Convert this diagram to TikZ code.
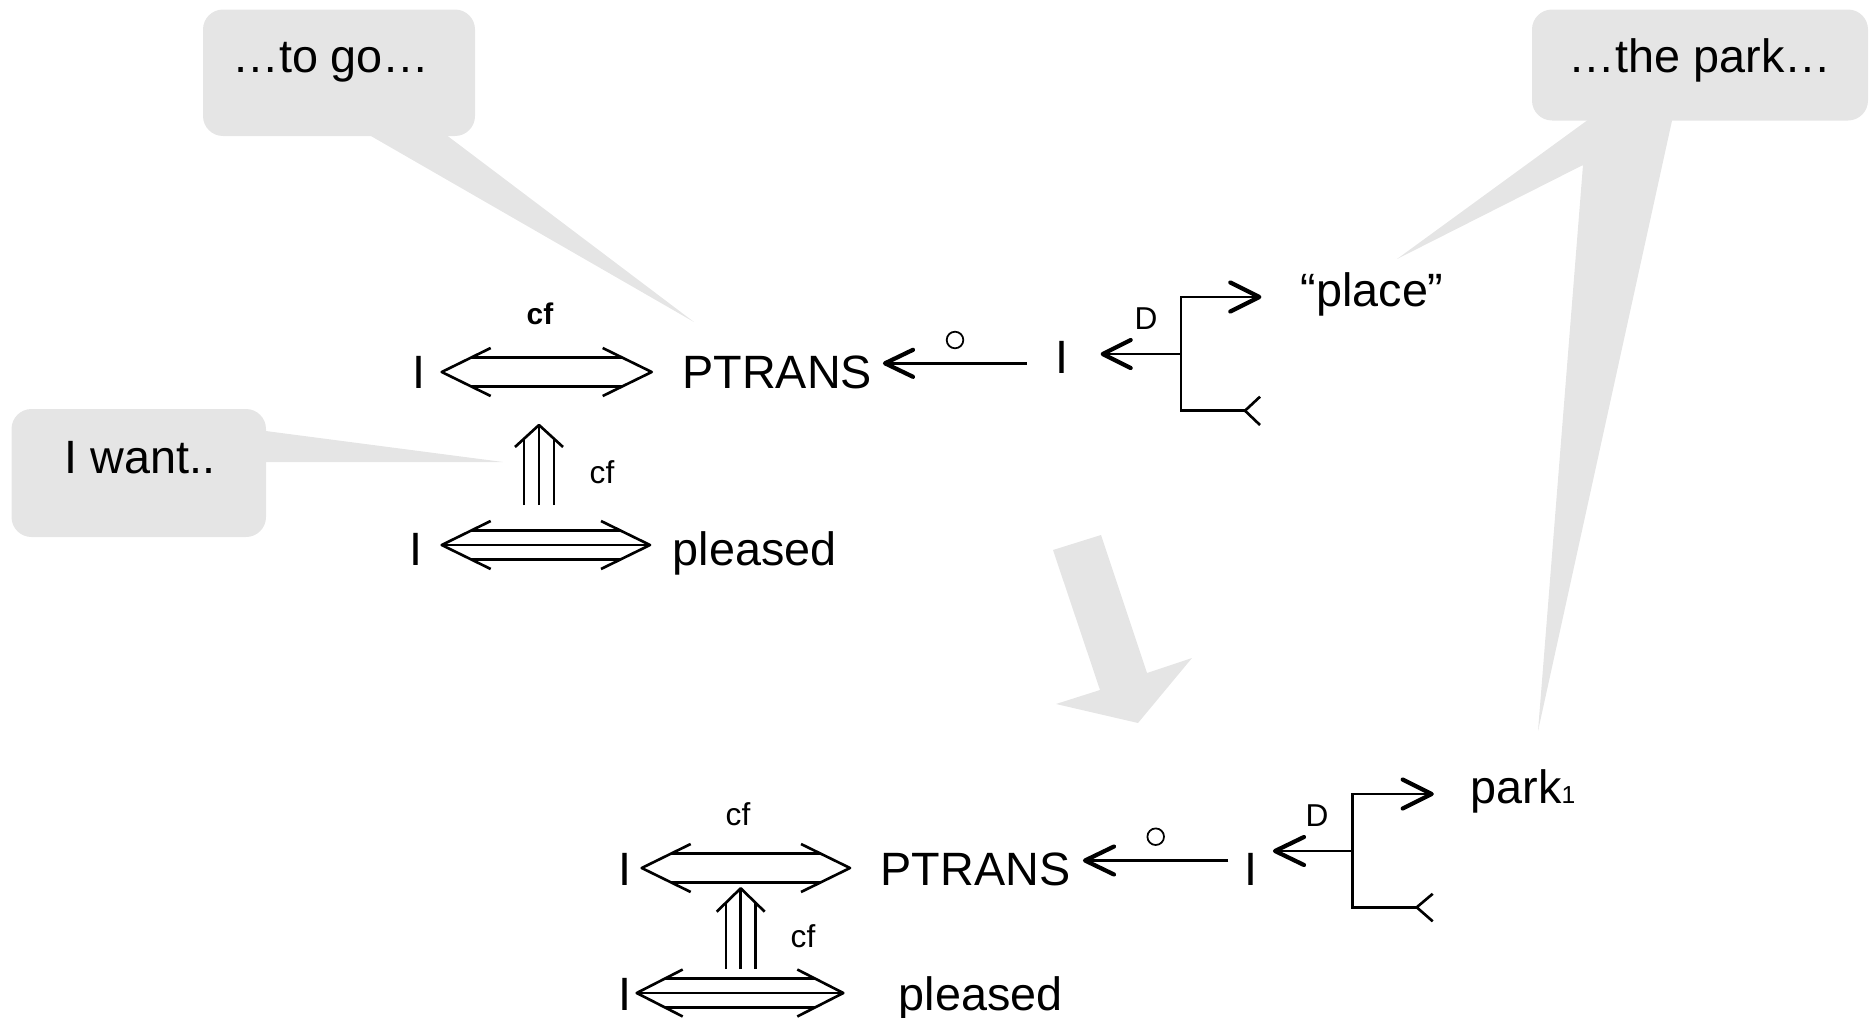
\documentclass[tikz,border=0pt]{standalone}
\usepackage{fontspec}
\setmainfont{Liberation Sans}
\usetikzlibrary{calc}
\definecolor{bubgray}{RGB}{229,229,229}
\begin{document}
\begin{tikzpicture}[x=0.1mm,y=-0.1mm,
  txt/.style={font=\fontsize{13.3}{16}\selectfont, inner sep=0pt},
  lbl/.style={font=\fontsize{9}{10}\selectfont, inner sep=0pt},
  bub/.style={fill=bubgray, draw=none, rounded corners=2mm},
  tail/.style={fill=bubgray, draw=none},
  ln/.style={line width=0.75pt, line join=round},
  hd/.style={line width=1.2pt, line cap=round, line join=round},
  ring/.style={circle, draw, line width=0.5pt, minimum size=1.66mm, inner sep=0pt},
]
\useasboundingbox (0,0) rectangle (1871,1018);

% ---------- speech bubbles ----------
\path[bub] (203,9.5) rectangle (475,136);
\path[tail] (357,128) -- (694,322) -- (437,128) -- cycle;
\node[txt, anchor=base] (togo) at (331,73) {…to go…};

\path[bub] (11.5,409) rectangle (266,537);
\path[tail] (255,429.6) -- (503,462) -- (255,462) -- cycle;
\node[txt, anchor=base] (iwant) at (140,473) {I want..};

\path[bub] (1532,9.5) rectangle (1868,120.5);
\path[tail] (1598.7,112) -- (1397,259) -- (1583,165) -- (1538,731) -- (1673.9,112) -- cycle;
\node[txt, anchor=base] (thepark) at (1700,73) {…the park…};

% big transition arrow
\path[tail] (1053,550) -- (1101,535) -- (1147,673) -- (1192,658) -- (1138,723) -- (1056,704) -- (1100,690) -- cycle;

% ---------- upper conceptualization ----------
\node[txt, anchor=base] (I1) at (418.5,388.3) {I};
\node[txt, anchor=base west] (PT1) at (681.7,388.3) {PTRANS};
\node[font=\bfseries\fontsize{8.5}{10}\selectfont, inner sep=0pt] (cf1) at (540,314) {cf};
\node[txt, anchor=base] (I2) at (416,565) {I};
\node[txt, anchor=base west] (pl1) at (672,565) {pleased};
\node[lbl] (cf2) at (602,472) {cf};
\node[ring] (o1) at (955,340) {};
\node[txt, anchor=base] (I3) at (1061.5,373) {I};
\node[lbl] (D1) at (1146,319) {D};
\node[txt, anchor=base west] (place) at (1300,306.7) {“place”};

% double arrow I <=> PTRANS
\coordinate (A1) at (441.7,372);
\coordinate (A2) at (651.7,372);
\draw[ln] ($(A1)+(49,-24)$) -- (A1) -- ($(A1)+(49,24)$);
\draw[ln] ($(A2)+(-49,-24)$) -- (A2) -- ($(A2)+(-49,24)$);
\draw[ln] ($(A1)+(29.6,-14.5)$) -- ($(A2)+(-29.6,-14.5)$);
\draw[ln] ($(A1)+(29.6,14.5)$) -- ($(A2)+(-29.6,14.5)$);

% triple vertical arrow
\coordinate (Bt) at (539,425);
\coordinate (Bb) at (539,505);
\draw[ln] ($(Bt)+(-24,22)$) -- (Bt) -- ($(Bt)+(24,22)$);
\draw[ln] (Bb) -- (Bt);
\draw[ln] ($(Bb)+(-15,0)$) -- ($(Bt)+(-15,13.75)$);
\draw[ln] ($(Bb)+(15,0)$) -- ($(Bt)+(15,13.75)$);

% triple horizontal arrow I <=> pleased
\coordinate (C1) at (441.7,545);
\coordinate (C2) at (650,545);
\draw[ln] ($(C1)+(49,-24)$) -- (C1) -- ($(C1)+(49,24)$);
\draw[ln] ($(C2)+(-49,-24)$) -- (C2) -- ($(C2)+(-49,24)$);
\draw[ln] (C1) -- (C2);
\draw[ln] ($(C1)+(29.6,-14.5)$) -- ($(C2)+(-29.6,-14.5)$);
\draw[ln] ($(C1)+(29.6,14.5)$) -- ($(C2)+(-29.6,14.5)$);

% objective arrow I -> PTRANS
\coordinate (E1t) at (1026.7,363.3);
\coordinate (E1h) at (885,363.3);
\draw[ln] (E1t) -- (E1h);
\draw[hd] ($(E1h)+(28,-13.5)$) -- (E1h) -- ($(E1h)+(28,13.5)$);

% directive bracket
\coordinate (F1v) at (1181,354);
\coordinate (F1h) at (1102.7,354);
\draw[ln] (F1v) -- (F1h);
\draw[hd] ($(F1h)+(28,-14)$) -- (F1h) -- ($(F1h)+(28,14)$);
\coordinate (G1a) at (1259.3,297);
\coordinate (G1b) at (1245,410.7);
\draw[ln, line join=miter] (G1a) -- (1181,297) -- (1181,410.7) -- (G1b);
\draw[hd] ($(G1a)+(-29,-14.5)$) -- (G1a) -- ($(G1a)+(-29,14.5)$);
\draw[ln] ($(G1b)+(15,-14)$) -- (G1b) -- ($(G1b)+(15,14.3)$);

% ---------- lower conceptualization ----------
\node[txt, anchor=base] (I4) at (625,885) {I};
\node[txt, anchor=base west] (PT2) at (880,885) {PTRANS};
\node[lbl] (cf3) at (738,814) {cf};
\node[txt, anchor=base] (I5) at (625,1010) {I};
\node[txt, anchor=base west] (pl2) at (898,1010) {pleased};
\node[lbl] (cf4) at (803,936) {cf};
\node[ring] (o2) at (1155.7,836.7) {};
\node[txt, anchor=base] (I6) at (1250.5,885) {I};
\node[lbl] (D2) at (1317,816) {D};
\node[txt, anchor=base west] (park) at (1470,803.3) {park{\fontsize{7}{8}\selectfont 1}};

% double arrow
\coordinate (H1) at (641.7,868);
\coordinate (H2) at (850,868);
\draw[ln] ($(H1)+(49,-24)$) -- (H1) -- ($(H1)+(49,24)$);
\draw[ln] ($(H2)+(-49,-24)$) -- (H2) -- ($(H2)+(-49,24)$);
\draw[ln] ($(H1)+(29.6,-14.3)$) -- ($(H2)+(-29.6,-14.3)$);
\draw[ln] ($(H1)+(29.6,14.3)$) -- ($(H2)+(-29.6,14.3)$);

% triple vertical arrow
\coordinate (Kt) at (740.7,888.3);
\coordinate (Kb) at (740.7,969);
\draw[ln] ($(Kt)+(-24,23.4)$) -- (Kt) -- ($(Kt)+(24,23.4)$);
\draw[ln] (Kb) -- (Kt);
\draw[ln] ($(Kb)+(-14.7,0)$) -- ($(Kt)+(-14.7,14.3)$);
\draw[ln] ($(Kb)+(14.7,0)$) -- ($(Kt)+(14.7,14.3)$);

% triple horizontal arrow
\coordinate (L1) at (636.7,993);
\coordinate (L2) at (843.3,993);
\draw[ln] ($(L1)+(46,-23.5)$) -- (L1) -- ($(L1)+(46,23.5)$);
\draw[ln] ($(L2)+(-46,-23.5)$) -- (L2) -- ($(L2)+(-46,23.5)$);
\draw[ln] (L1) -- (L2);
\draw[ln] ($(L1)+(28,-14.3)$) -- ($(L2)+(-28,-14.3)$);
\draw[ln] ($(L1)+(28,14.3)$) -- ($(L2)+(-28,14.3)$);

% objective arrow
\coordinate (E2t) at (1228.3,860.5);
\coordinate (E2h) at (1085,860.5);
\draw[ln] (E2t) -- (E2h);
\draw[hd] ($(E2h)+(29,-14)$) -- (E2h) -- ($(E2h)+(29,14)$);

% directive bracket
\coordinate (F2v) at (1352.7,851);
\coordinate (F2h) at (1275,851);
\draw[ln] (F2v) -- (F2h);
\draw[hd] ($(F2h)+(29,-14)$) -- (F2h) -- ($(F2h)+(29,14)$);
\coordinate (G2a) at (1431.7,794);
\coordinate (G2b) at (1416.7,907.3);
\draw[ln, line join=miter] (G2a) -- (1352.7,794) -- (1352.7,907.3) -- (G2b);
\draw[hd] ($(G2a)+(-29,-14.5)$) -- (G2a) -- ($(G2a)+(-29,14.5)$);
\draw[ln] ($(G2b)+(16,-13.5)$) -- (G2b) -- ($(G2b)+(16,14)$);
\end{tikzpicture}
\end{document}
